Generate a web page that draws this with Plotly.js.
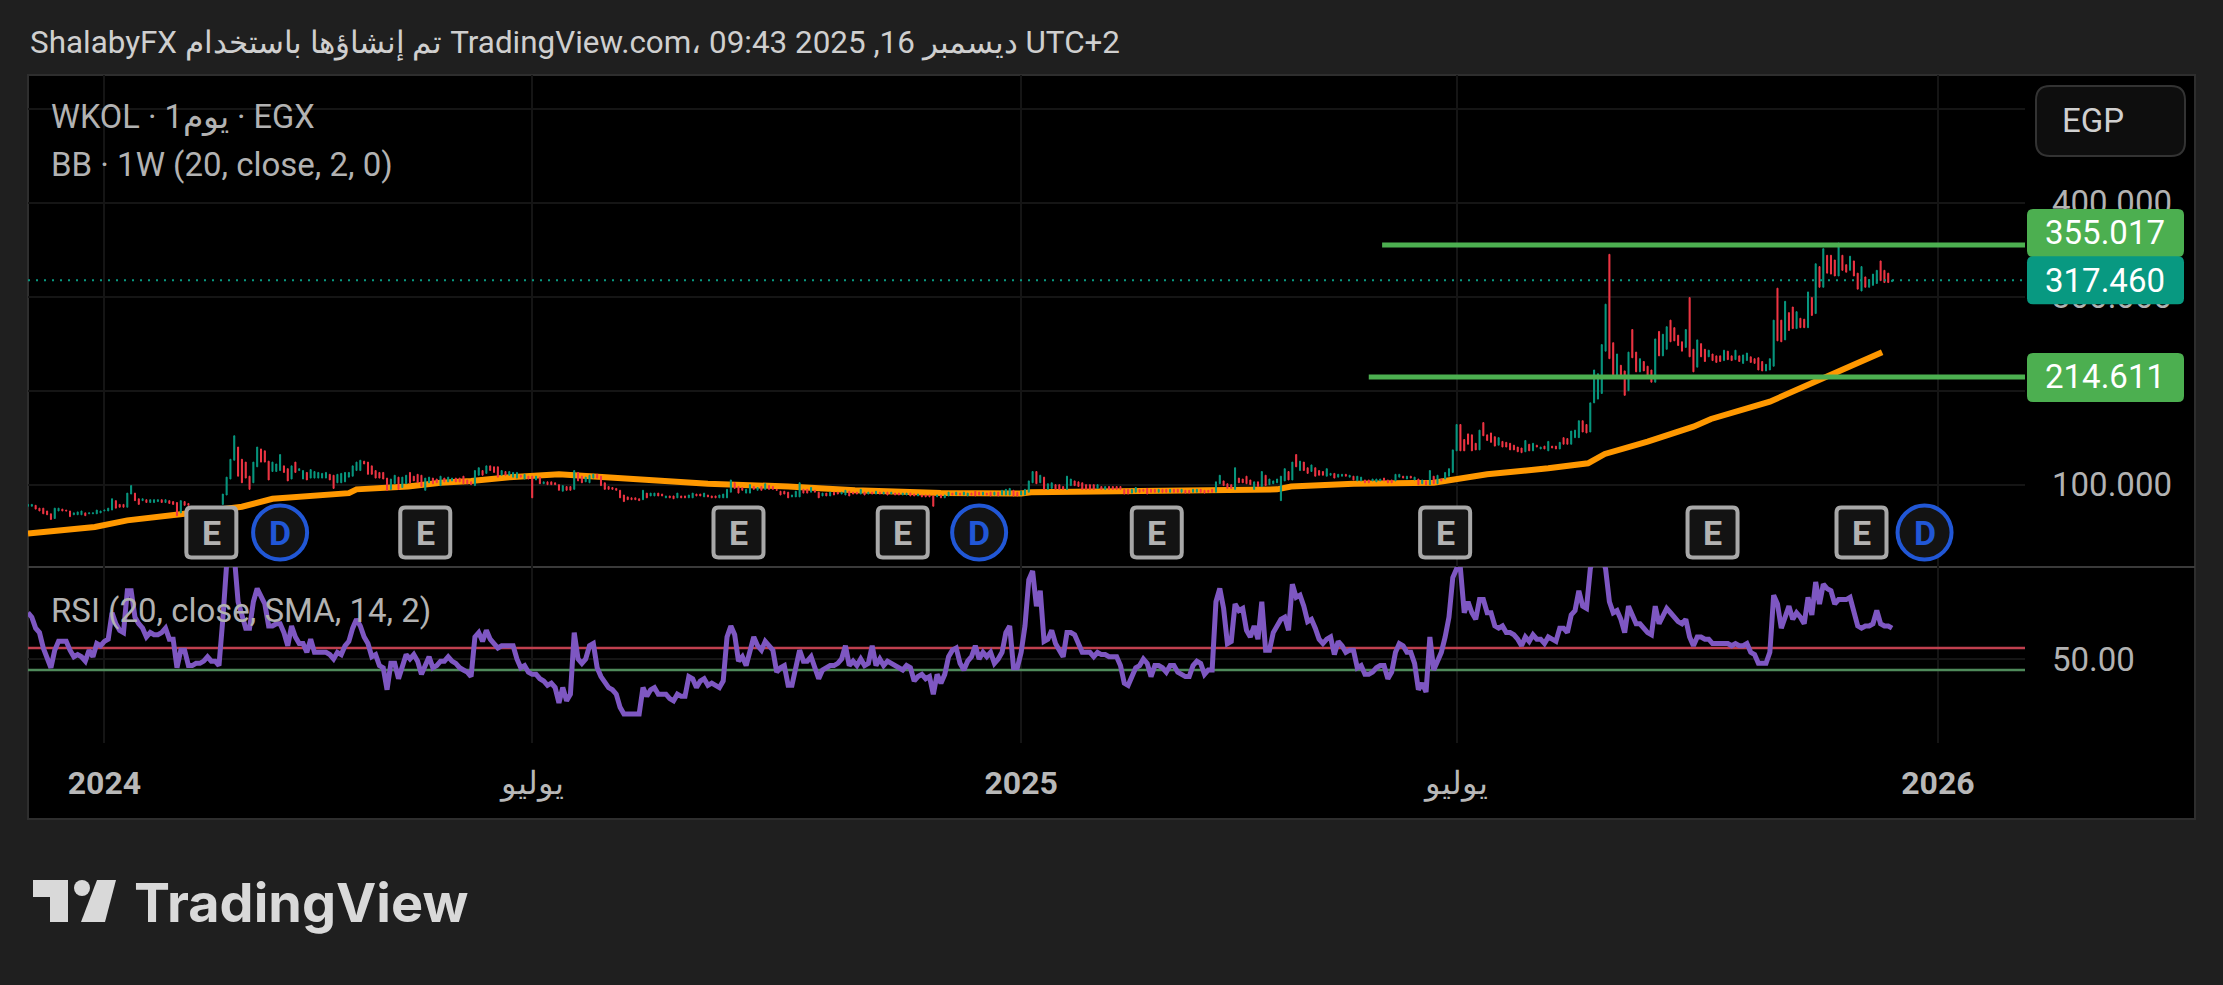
<!DOCTYPE html>
<html><head><meta charset="utf-8">
<script src="https://cdn.plot.ly/plotly-3.0.1.min.js"></script>
<style>html,body{margin:0;padding:0;background:#1f1f1f}#c{width:2223px;height:985px}</style>
</head><body><div id="c"></div>
<script>
const opens = [
77,77,78,75,75,72,69,64,72,74,73,72,68,68,68,70,69,69,69,70,
72,72,73,83,79,79,76,90,91,85,83,84,81,81,82,84,81,83,82,81,
70,82,80,75,72,75,73,75,72,73,74,79,89,106,126,140,127,124,109,102,
119,138,136,125,114,114,115,120,117,106,124,115,106,113,107,107,107,107,107,111,
110,102,102,103,108,109,115,115,125,124,120,115,113,113,107,95,101,108,97,101,
113,109,111,110,94,102,107,106,99,107,103,104,107,107,109,105,103,99,110,115,
112,120,119,119,110,114,110,108,107,110,106,109,109,105,108,101,103,103,102,100,
93,98,98,95,113,109,103,102,107,111,109,102,98,97,96,94,89,87,86,86,
85,84,91,88,88,91,90,86,88,88,86,88,88,86,86,90,90,87,89,88,
88,86,86,86,92,102,98,97,91,91,98,94,98,95,99,98,95,93,93,92,
87,87,87,95,95,92,94,92,88,91,88,92,92,90,89,93,92,92,90,92,
90,92,90,92,90,92,90,91,91,89,89,91,90,88,89,89,89,88,87,89,
86,88,91,89,91,89,88,91,93,92,89,91,92,89,92,89,89,89,94,92,
89,89,92,102,114,102,108,95,96,100,100,98,95,99,104,103,102,100,100,100,
96,98,95,98,98,98,98,95,95,91,92,95,95,96,95,95,92,95,95,
92,95,95,92,94,94,92,92,95,94,94,95,92,101,104,101,100,95,107,106,
109,105,95,103,98,110,100,101,102,83,104,114,105,132,115,124,118,114,118,115,
114,109,110,112,108,109,111,108,109,104,104,105,105,104,103,104,107,105,105,104,
108,109,106,109,105,106,101,104,100,109,101,106,106,109,113,136,164,148,154,153,
144,137,166,153,155,151,142,146,145,144,142,140,139,135,143,136,142,138,141,136,
141,141,138,150,149,143,150,150,168,164,156,187,191,197,242,345,251,216,227,221,
200,265,241,220,231,226,222,209,263,237,244,275,267,259,252,246,299,244,225,250,
244,236,239,237,237,232,242,237,233,237,229,232,236,234,235,231,221,222,226,309,
275,254,283,289,266,277,276,267,299,282,332,310,344,344,339,322,344,334,328,338,
325,306,321,310,312,314,338,328,325,316];
const closes = [
79,79,74,72,69,68,63,75,75,72,72,66,70,71,72,67,70,70,73,72,
73,75,85,75,76,76,91,99,83,79,85,81,84,84,84,81,84,80,79,67,
83,78,78,72,75,73,76,72,74,75,72,90,108,127,152,109,102,107,95,124,
140,124,124,105,124,122,132,113,104,120,113,117,115,105,116,114,113,112,113,105,
96,111,112,113,113,120,124,126,122,111,111,107,107,106,94,106,110,95,108,110,
102,104,102,98,107,108,101,102,109,103,108,107,103,103,101,101,100,115,118,110,
120,115,113,108,115,110,114,113,113,108,111,106,86,109,101,103,100,100,100,94,
99,94,94,115,104,102,108,110,111,107,99,95,95,95,94,86,82,84,84,84,
83,94,86,91,91,88,88,88,86,85,91,86,86,89,91,88,88,91,87,86,
86,89,90,95,105,96,91,94,95,100,95,97,94,101,95,95,94,89,90,86,
89,93,102,91,91,97,92,86,91,88,92,89,90,92,94,88,90,90,95,89,
92,90,93,90,92,89,92,89,89,91,91,88,88,90,87,87,87,77,89,86,
89,92,89,92,89,92,91,89,88,89,92,89,88,92,88,94,95,96,88,88,
93,95,104,114,101,110,95,101,102,95,95,95,109,106,99,98,95,95,95,95,
100,95,98,95,95,95,95,90,90,95,97,92,93,90,92,92,95,92,92,
95,92,92,95,91,91,95,95,92,91,92,92,103,110,99,96,96,118,102,102,
101,100,103,98,114,99,106,104,106,109,117,105,124,119,125,115,112,121,109,110,
110,117,112,107,111,111,109,110,105,109,108,102,102,106,106,106,104,102,102,111,
111,107,109,107,108,100,105,100,115,101,110,104,113,117,137,164,136,136,143,136,
137,158,152,147,145,141,150,140,140,137,137,135,134,147,136,144,140,140,138,146,
139,138,145,143,143,157,158,168,156,155,187,222,218,249,292,234,214,239,216,195,
241,235,220,234,221,215,209,255,237,260,268,252,253,248,242,265,236,220,254,236,
231,243,232,230,231,243,233,232,243,231,238,240,230,229,222,221,228,234,275,253,
252,295,264,266,284,267,267,305,280,335,310,351,325,324,322,357,328,326,343,322,
308,332,310,318,324,328,317,315,315,317.46];
const rsi = [
71,69,64,62,55,50,46,54,58,58,58,54,51,52,51,49,54,51,57,56,
58,59,71,66,63,62,81,81,69,66,64,60,62,61,61,62,64,59,59,46,
54,54,47,47,48,48,49,51,49,49,47,68,93,98,97,76,69,64,64,76,
82,78,75,65,65,66,66,62,56,65,60,57,57,53,59,53,53,53,53,52,
50,53,52,56,58,64,68,65,60,57,51,52,47,46,36,48,48,41,47,52,
50,52,49,43,47,51,46,47,49,49,51,49,48,46,45,44,42,60,62,58,
63,59,57,55,56,56,56,56,50,46,47,44,43,43,41,40,38,39,37,30,
37,31,34,62,50,48,50,56,57,46,42,39,37,36,34,28,25,25,25,25,
25,37,33,36,37,34,34,34,32,31,34,33,33,42,41,37,40,41,38,39,
38,37,40,60,65,61,49,51,47,53,60,56,54,58,56,54,44,46,47,38,
38,45,54,49,49,51,46,41,45,46,47,47,48,50,56,47,49,47,50,47,
48,56,47,50,47,49,48,47,46,45,47,46,40,42,43,41,42,34,43,39,
43,51,54,55,48,45,49,51,56,50,53,51,53,48,50,53,62,65,46,46,
53,65,86,90,74,81,58,59,63,57,54,51,62,62,61,57,53,53,53,51,
53,52,52,51,51,51,47,39,38,42,46,47,50,48,42,47,47,46,44,
47,47,44,43,42,42,47,49,48,43,45,45,76,82,73,57,58,75,72,73,
63,60,65,59,76,54,54,62,65,68,69,63,84,78,79,74,67,68,64,59,
57,59,60,52,58,56,53,54,54,46,47,43,43,44,46,47,47,41,44,53,
57,56,53,53,48,36,39,35,60,45,49,53,60,69,87,91,91,71,76,71,
68,77,77,71,71,65,64,65,62,62,61,59,56,60,58,61,59,59,57,60,
59,58,64,64,62,70,72,81,74,73,91,98,99,97,91,76,71,72,68,62,
74,70,66,66,64,62,61,74,66,70,73,71,69,67,66,68,60,56,60,60,
59,59,57,57,57,57,57,56,57,56,56,57,53,52,48,48,48,53,79,75,
64,69,74,68,71,69,66,78,70,85,75,84,82,81,75,77,77,77,78,71,
65,64,65,65,66,72,66,65,65,64];
const bbIndex = [0,17.5,26,35,41,56,64,84,86,99.5,108,116,126,139,148,160.5,178,199,216.5,239,251,260,262.6,277.5,298.4,310.7,318.6,327,330.7,347,368,375,382,398,408.4,412.8,424,436,440.6,456,467.8,485.4];
const bbValues = [48,55,62,67,69,76.5,85,91,95,98,102,104,108,111,109,106,101,98,94,91,90,90.5,92,92.5,93.5,93.5,94,95,98,101,102,106,111,117.4,122.7,132.7,145.8,161.7,169.9,188.3,208.9,240.8];
const upperLevel = 355.017, lowerLevel = 214.611, lastPrice = 317.46;
const upperLineStart = 354.5, lowerLineStart = 351;
const rsiUpper = 55, rsiLower = 45;
const eventIndexE = [48,104,186,229,295.5,371,441,480];
const eventIndexD = [66,249,496.5];
const eventRow = 49;
const timeTickIndex = [20,132,260,374,500];
const timeTickText = ['<b>2024</b>','يوليو','<b>2025</b>','يوليو','<b>2026</b>'];
const priceTicks = [100,200,300,400,500];
const priceTickText = ['100.000','200.000','300.000','400.000',''];

const W=2223,H=985,FONT='Roboto, "Noto Sans", sans-serif';
const fx=p=>p/W, fy=p=>1-p/H;
const idx=opens.map((_,i)=>i);
const highs=opens.map((o,i)=>Math.max(o,closes[i]));
const lows=opens.map((o,i)=>Math.min(o,closes[i]));
const xMax=522.8;
const UP='#089981',DOWN='#F23645',GRID='#151515';
const yRange=[12.4,535.8];
const priceToPx=v=>567-(v-yRange[0])/(yRange[1]-yRange[0])*(567-75);

const traces=[
 {type:'scatter',mode:'lines',x:bbIndex,y:bbValues,xaxis:'x',yaxis:'y',zorder:1,
  line:{color:'#ff9800',width:6,shape:'linear'},hoverinfo:'skip'},
 {type:'candlestick',x:idx,open:opens,high:highs,low:lows,close:closes,xaxis:'x',yaxis:'y',zorder:2,
  increasing:{line:{color:UP,width:1},fillcolor:UP},decreasing:{line:{color:DOWN,width:1},fillcolor:DOWN},hoverinfo:'skip'},
 {type:'scatter',mode:'lines',x:[0,xMax],y:[lastPrice,lastPrice],xaxis:'x',yaxis:'y',zorder:3,
  line:{color:UP,width:2,dash:'2px 6px'},hoverinfo:'skip'},
 {type:'scatter',mode:'lines',x:[upperLineStart,xMax],y:[upperLevel,upperLevel],xaxis:'x',yaxis:'y',zorder:4,
  line:{color:'#4caf50',width:5},hoverinfo:'skip'},
 {type:'scatter',mode:'lines',x:[lowerLineStart,xMax],y:[lowerLevel,lowerLevel],xaxis:'x',yaxis:'y',zorder:4,
  line:{color:'#4caf50',width:5},hoverinfo:'skip'},
 {type:'scatter',mode:'markers',x:eventIndexD,y:eventIndexD.map(()=>eventRow),xaxis:'x',yaxis:'y',zorder:5,
  marker:{symbol:'circle',size:54,color:'#131313',line:{color:'#2157d6',width:4}},hoverinfo:'skip'},
 {type:'scatter',mode:'lines',x:[0,xMax],y:[rsiUpper,rsiUpper],xaxis:'x',yaxis:'y2',
  line:{color:'#c0404f',width:2.5},hoverinfo:'skip'},
 {type:'scatter',mode:'lines',x:[0,xMax],y:[rsiLower,rsiLower],xaxis:'x',yaxis:'y2',
  line:{color:'#4f8a5b',width:2.5},hoverinfo:'skip'},
 {type:'scatter',mode:'lines',x:idx,y:rsi,xaxis:'x',yaxis:'y2',
  line:{color:'#7e57c2',width:5},hoverinfo:'skip'}
];

function rrPath(x0,y0,x1,y1,r,a){
 return 'M'+a(x0+r,y0)+' L'+a(x1-r,y0)+' Q'+a(x1,y0)+' '+a(x1,y0+r)+' L'+a(x1,y1-r)+' Q'+a(x1,y1)+' '+a(x1-r,y1)+
  ' L'+a(x0+r,y1)+' Q'+a(x0,y1)+' '+a(x0,y1-r)+' L'+a(x0,y0+r)+' Q'+a(x0,y0)+' '+a(x0+r,y0)+' Z';
}
const paperXY=(x,y)=>fx(x)+','+fy(y);
const rr=(x0,y0,x1,y1,r)=>rrPath(x0,y0,x1,y1,r,paperXY);
function poly(pts){return 'M'+pts.map(p=>fx(p[0])+','+fy(p[1])).join(' L')+' Z';}
const paperShape=o=>Object.assign({xref:'paper',yref:'paper'},o);
const eBox=i=>({type:'path',xref:'x',yref:'y',xsizemode:'pixel',ysizemode:'pixel',xanchor:i,yanchor:eventRow,
 path:rrPath(-25,-25,25,25,5,(x,y)=>x+','+y),fillcolor:'#131313',line:{color:'#a8a8a8',width:4},layer:'above'});
const tagBox=(top,bottom,color)=>paperShape({type:'path',path:rr(2027,top,2184,bottom,6),fillcolor:color,line:{width:0},layer:'above'});
const tagUpperShift=12;
const shapes=[
 paperShape({type:'rect',x0:fx(28),x1:fx(2195),y0:fy(819),y1:fy(75),fillcolor:'#000',line:{color:'#2e2e2e',width:2},layer:'below'}),
 paperShape({type:'line',x0:fx(28),x1:fx(2195),y0:fy(567),y1:fy(567),line:{color:'#3a3a3a',width:2},layer:'below'}),
 paperShape({type:'path',path:rr(2036,86,2185,156,14),fillcolor:'#0e0e0e',line:{color:'#333',width:2},layer:'above'}),
 paperShape({type:'path',path:poly([[33,880],[68,880],[68,922],[50,922],[50,897],[33,897]]),fillcolor:'#d9d9d9',line:{width:0}}),
 paperShape({type:'circle',x0:fx(74),x1:fx(90),y0:fy(896),y1:fy(880),fillcolor:'#d9d9d9',line:{width:0}}),
 paperShape({type:'path',path:poly([[97,880],[116,880],[105,922],[81,922]]),fillcolor:'#d9d9d9',line:{width:0}}),
 tagBox(priceToPx(upperLevel)-tagUpperShift-24,priceToPx(upperLevel)-tagUpperShift+24,'#4caf50'),
 tagBox(priceToPx(lastPrice)-24,priceToPx(lastPrice)+24,'#089981'),
 tagBox(priceToPx(lowerLevel)-24,priceToPx(lowerLevel)+25,'#4caf50'),
 ...eventIndexE.map(eBox)
];
const lab=(text,x,y,size,color,extra)=>Object.assign({xref:'paper',yref:'paper',x:fx(x),y:fy(y),xanchor:'left',yanchor:'middle',
 text,showarrow:false,font:{family:FONT,size,color}},extra||{});
const priceTag=(v,shift)=>({xref:'paper',yref:'y',x:fx(2105),y:v,yshift:shift,xanchor:'center',yanchor:'middle',text:v.toFixed(3),showarrow:false,
 font:{family:FONT,size:33,color:'#fff'}});
const eventLabel=(t,i,color)=>({xref:'x',yref:'y',x:i,y:eventRow,text:t,showarrow:false,xanchor:'center',yanchor:'middle',
 font:{family:FONT,size:34,color,weight:700}});
const annotations=[
 lab('ShalabyFX تم إنشاؤها باستخدام TradingView.com، ديسمبر 16, 2025 09:43 UTC+2',28,42,31.4,'#cfcfcf'),
 lab('WKOL · 1يوم · EGX',49,117,32.6,'#b2b2b2'),
 lab('BB · 1W (20, close, 2, 0)',49,164,33,'#b2b2b2'),
 lab('RSI (20, close, SMA, 14, 2)',49,610,33,'#b2b2b2'),
 lab('EGP',2060,120,33,'#d0d0d0'),
 lab('TradingView',132,902,54,'#d9d9d9',{font:{family:'Inter, Roboto, sans-serif',size:54,color:'#d9d9d9',weight:700}}),
 priceTag(upperLevel,tagUpperShift),
 priceTag(lastPrice,0),
 priceTag(lowerLevel,0),
 ...eventIndexE.map(i=>eventLabel('E',i,'#b2b2b2')),
 ...eventIndexD.map(i=>eventLabel('D',i,'#2157d6'))
];
const layout={
 width:W,height:H,margin:{l:0,r:0,t:0,b:0},autosize:false,showlegend:false,
 paper_bgcolor:'#1f1f1f',plot_bgcolor:'rgba(0,0,0,0)',boxgap:0.62,
 xaxis:{domain:[fx(28),fx(2025)],range:[0,xMax],anchor:'y2',type:'linear',tickmode:'array',tickvals:timeTickIndex,ticktext:timeTickText,
  showgrid:true,gridcolor:GRID,gridwidth:2,zeroline:false,showline:false,ticks:'',ticklabelstandoff:18,
  tickfont:{family:FONT,size:32,color:'#b8b8b8'},rangeslider:{visible:false},fixedrange:true},
 yaxis:{domain:[fy(567),fy(75)],range:yRange,side:'right',anchor:'x',tickmode:'array',tickvals:priceTicks,ticktext:priceTickText,
  showgrid:true,gridcolor:GRID,gridwidth:2,zeroline:false,showline:false,ticks:'',ticklabelstandoff:26,
  tickfont:{family:FONT,size:33,color:'#b2b2b2'},fixedrange:true},
 yaxis2:{domain:[fy(743),fy(567)],range:[11.8,91.8],side:'right',anchor:'x',tickmode:'array',tickvals:[50],ticktext:['50.00'],
  showgrid:true,gridcolor:GRID,gridwidth:2,zeroline:false,showline:false,ticks:'',ticklabelstandoff:26,
  tickfont:{family:FONT,size:33,color:'#b2b2b2'},fixedrange:true},
 shapes,annotations
};
Plotly.newPlot('c',traces,layout,{displayModeBar:false,staticPlot:true});
</script></body></html>
